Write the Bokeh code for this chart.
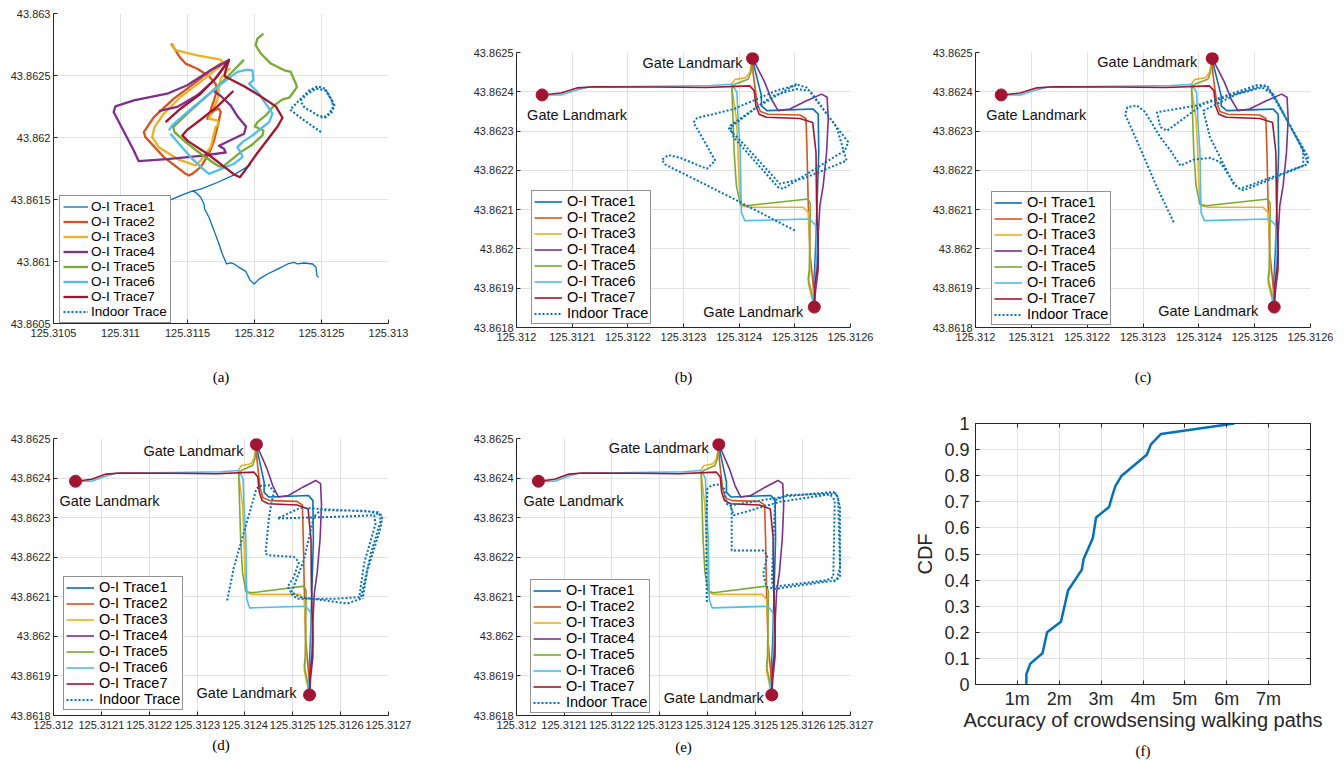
import numpy as np
from bokeh.plotting import figure
from bokeh.models import Range1d, FixedTicker, LinearAxis, Legend, LegendItem, CustomJSTickFormatter
from bokeh.layouts import row, column
from bokeh.embed import file_html
from bokeh.resources import INLINE
from bokeh.core.properties import value

COLORS = ["#0072BD", "#D95319", "#EDB120", "#7E2F8E", "#77AC30", "#4DBEEE", "#A2142F"]
NAMES = ["O-I Trace1", "O-I Trace2", "O-I Trace3", "O-I Trace4", "O-I Trace5", "O-I Trace6", "O-I Trace7"]
INDOOR_NAME = "Indoor Trace"
GATE_TEXT = "Gate Landmark"

# ---------------- panel (a) ----------------
A_XTICKS = [125.3105, 125.311, 125.3115, 125.312, 125.3125, 125.313]
A_XLABELS = ["125.3105", "125.311", "125.3115", "125.312", "125.3125", "125.313"]
A_YTICKS = [43.8605, 43.861, 43.8615, 43.862, 43.8625, 43.863]
A_YLABELS = ["43.8605", "43.861", "43.8615", "43.862", "43.8625", "43.863"]

A_T1_LON = [125.312479, 125.312466, 125.312459, 125.312434, 125.312371, 125.312321, 125.312296, 125.312247,
            125.312172, 125.312097, 125.312034, 125.311997, 125.311967, 125.311935, 125.311885, 125.311847,
            125.311822, 125.311792, 125.311760, 125.311735, 125.311698, 125.311660, 125.311628, 125.311623,
            125.311598, 125.311560, 125.311535, 125.311461, 125.311373, 125.311273, np.nan,
            125.311535, 125.311598, 125.311723, 125.311847, 125.311972]
A_T1_LAT = [43.860872, 43.860885, 43.860953, 43.860980, 43.860988, 43.860980, 43.860993, 43.860980,
            43.860939, 43.860899, 43.860858, 43.860818, 43.860850, 43.860920, 43.860953, 43.860980,
            43.860988, 43.860980, 43.861060, 43.861141, 43.861249, 43.861357, 43.861424, 43.861464,
            43.861518, 43.861559, 43.861567, 43.861537, 43.861497, 43.861451, np.nan,
            43.861567, 43.861583, 43.861637, 43.861699, 43.861782]
A_T2_LON = [125.311378, 125.311398, 125.311441, 125.311486, 125.311573, 125.311660, 125.311710, 125.311718,
            125.311698, 125.311678, 125.311660, 125.311648, 125.311698, 125.311735, 125.311748, 125.311723,
            125.311698, 125.311660, 125.311598, 125.311535, 125.311510, 125.311486, 125.311323, 125.311186,
            125.311174, 125.311249, 125.311398, 125.311548, 125.311673, 125.311748, 125.311810]
A_T2_LAT = [43.862758, 43.862725, 43.862650, 43.862596, 43.862555, 43.862494, 43.862434, 43.862380,
            43.862300, 43.862240, 43.862178, 43.862151, 43.862219, 43.862232, 43.862205, 43.862084,
            43.861976, 43.861869, 43.861761, 43.861707, 43.861693, 43.861707, 43.861842, 43.862003,
            43.862044, 43.862165, 43.862313, 43.862434, 43.862542, 43.862596, 43.862623]
A_T3_LON = [125.311386, 125.311411, 125.311573, 125.311748, 125.311767, 125.311598, 125.311448, 125.311323,
            125.311254, 125.311236, 125.311286, 125.311423, 125.311560, 125.311598, 125.311673, 125.311710,
            125.311735, 125.311723, 125.311660, 125.311673, 125.311723, 125.311735, 125.311748, 125.311797,
            125.311822]
A_T3_LAT = [43.862758, 43.862704, 43.862663, 43.862628, 43.862596, 43.862448, 43.862327, 43.862192,
            43.862084, 43.862003, 43.861922, 43.861828, 43.861774, 43.861815, 43.861922, 43.862084,
            43.862111, 43.862138, 43.862151, 43.862192, 43.862300, 43.862407, 43.862475, 43.862542,
            43.862556]
A_T4_LON = [125.311286, 125.311423, 125.311573, 125.311698, 125.311810, 125.311673, 125.311498, 125.311348,
            125.311099, 125.310962, 125.310949, 125.311099, 125.311136, 125.311348, 125.311598, 125.311785,
            125.311772, 125.311735, 125.311922, 125.311937, 125.311877, 125.311822, 125.311748, 125.311698]
A_T4_LAT = [43.862213, 43.862246, 43.862340, 43.862461, 43.862623, 43.862542, 43.862421, 43.862353,
            43.862300, 43.862251, 43.862205, 43.861895, 43.861809, 43.861825, 43.861852, 43.861879,
            43.861909, 43.861933, 43.862030, 43.862089, 43.862165, 43.862259, 43.862335, 43.862375]
A_T5_LON = [125.312067, 125.312022, 125.312009, 125.312047, 125.312122, 125.312222, 125.312271, 125.312291,
            125.312309, 125.312316, 125.312291, 125.312259, 125.312209, 125.312147, 125.312084, 125.312022,
            125.312002, 125.312067, 125.312059, 125.311985, 125.311897, 125.311822, 125.311760, 125.311723,
            125.311598, 125.311486, 125.311403, 125.311393, 125.311498, 125.311623, 125.311760, 125.311922]
A_T5_LAT = [43.862838, 43.862798, 43.862744, 43.862677, 43.862596, 43.862542, 43.862529, 43.862475,
            43.862434, 43.862407, 43.862367, 43.862321, 43.862308, 43.862259, 43.862178, 43.862124,
            43.862089, 43.862057, 43.862017, 43.861944, 43.861882, 43.861815, 43.861761, 43.861774,
            43.861869, 43.861963, 43.862044, 43.862084, 43.862192, 43.862313, 43.862448, 43.862628]
A_T6_LON = [125.311361, 125.311386, 125.311498, 125.311648, 125.311772, 125.311872, 125.311947, 125.311985,
            125.311992, 125.311960, 125.312022, 125.312084, 125.312134, 125.312109, 125.312047, 125.311985,
            125.311910, 125.311872, 125.311897, 125.311910, 125.311847, 125.311723, 125.311660, 125.311623,
            125.311523, 125.311436, 125.311373]
A_T6_LAT = [43.862057, 43.862098, 43.862205, 43.862340, 43.862448, 43.862529, 43.862547, 43.862542,
            43.862461, 43.862434, 43.862367, 43.862273, 43.862192, 43.862124, 43.862071, 43.862017,
            43.861963, 43.861922, 43.861882, 43.861842, 43.861788, 43.861734, 43.861707, 43.861739,
            43.861842, 43.861949, 43.862030]
A_T7_LON = [125.311336, 125.311448, 125.311598, 125.311723, 125.311810, 125.311785, 125.311777, 125.311835,
            125.311922, 125.312047, 125.312159, 125.312209, 125.312172, 125.312097, 125.312017, 125.311947,
            125.311892, 125.311847, 125.311648, 125.311503, 125.311461, 125.311493, 125.311598, 125.311723,
            125.311842]
A_T7_LAT = [43.862124, 43.862232, 43.862353, 43.862494, 43.862628, 43.862542, 43.862494, 43.862461,
            43.862413, 43.862332, 43.862251, 43.862159, 43.862089, 43.861982, 43.861869, 43.861761,
            43.861680, 43.861702, 43.861869, 43.861971, 43.862017, 43.862057, 43.862143, 43.862251,
            43.862375]
A_IN_LON = [125.312496, 125.312371, 125.312266, 125.312321, 125.312359, 125.312409, 125.312471, 125.312526,
            125.312571, 125.312596, 125.312571, 125.312521, 125.312471, 125.312421, 125.312384, 125.312359,
            125.312346, 125.312396, 125.312459, 125.312533, 125.312583, 125.312583, 125.312533, 125.312483]
A_IN_LAT = [43.862044, 43.862138, 43.862224, 43.862286, 43.862327, 43.862380, 43.862413, 43.862394,
            43.862313, 43.862259, 43.862192, 43.862165, 43.862178, 43.862213, 43.862232, 43.862259,
            43.862300, 43.862353, 43.862394, 43.862380, 43.862286, 43.862232, 43.862165, 43.862165]

# ---------------- panels (b)-(e): outdoor-indoor traces ----------------
B_XTICKS = [125.312, 125.3121, 125.3122, 125.3123, 125.3124, 125.3125, 125.3126]
B_XLABELS = ["125.312", "125.3121", "125.3122", "125.3123", "125.3124", "125.3125", "125.3126"]
D_XTICKS = [125.312, 125.3121, 125.3122, 125.3123, 125.3124, 125.3125, 125.3126, 125.3127]
D_XLABELS = ["125.312", "125.3121", "125.3122", "125.3123", "125.3124", "125.3125", "125.3126", "125.3127"]
B_YTICKS = [43.8618, 43.8619, 43.862, 43.8621, 43.8622, 43.8623, 43.8624, 43.8625]
B_YLABELS = ["43.8618", "43.8619", "43.862", "43.8621", "43.8622", "43.8623", "43.8624", "43.8625"]

GATE_LON = [125.312046, 125.312424, 125.312535]
GATE_LAT = [43.862392, 43.862485, 43.861852]

OI_T1_LON = [125.312424, 125.312428, 125.312434, 125.312440, 125.312440, 125.312450, 125.312533, 125.312542,
             125.312543, 125.312540, 125.312537, 125.312534, 125.312535]
OI_T1_LAT = [43.862485, 43.862458, 43.862424, 43.862390, 43.862364, 43.862352, 43.862356, 43.862343,
             43.862246, 43.862119, 43.861992, 43.861907, 43.861852]
OI_T2_LON = [125.312424, 125.312425, 125.312428, 125.312432, 125.312438, 125.312452, 125.312509, 125.312520,
             125.312522, 125.312524, 125.312527, 125.312533, 125.312535]
OI_T2_LAT = [43.862485, 43.862449, 43.862415, 43.862373, 43.862350, 43.862343, 43.862341, 43.862332,
             43.862246, 43.862119, 43.861992, 43.861907, 43.861852]
OI_T3_LON = [125.312424, 125.312419, 125.312412, 125.312392, 125.312386, 125.312395, 125.312398, 125.312400,
             125.312404, 125.312416, 125.312515, 125.312524, 125.312527, 125.312527, 125.312524, 125.312528,
             125.312535]
OI_T3_LAT = [43.862485, 43.862449, 43.862436, 43.862431, 43.862418, 43.862331, 43.862246, 43.862161,
             43.862110, 43.862106, 43.862106, 43.862093, 43.862025, 43.861941, 43.861915, 43.861890,
             43.861852]
OI_T4_LON = [125.312424, 125.312431, 125.312446, 125.312458, 125.312470, 125.312491, 125.312521, 125.312548,
             125.312558, 125.312560, 125.312557, 125.312551, 125.312545, 125.312542, 125.312542, 125.312537,
             125.312535]
OI_T4_LAT = [43.862485, 43.862466, 43.862424, 43.862381, 43.862352, 43.862356, 43.862377, 43.862394,
             43.862386, 43.862331, 43.862246, 43.862161, 43.862110, 43.862034, 43.861949, 43.861890,
             43.861852]
OI_T5_LON = [125.312424, 125.312421, 125.312416, 125.312392, 125.312387, 125.312389, 125.312391, 125.312395,
             125.312402, 125.312413, 125.312524, 125.312528, 125.312527, 125.312526, 125.312524, 125.312530,
             125.312535]
OI_T5_LAT = [43.862485, 43.862449, 43.862432, 43.862419, 43.862407, 43.862331, 43.862246, 43.862161,
             43.862114, 43.862110, 43.862127, 43.862114, 43.862034, 43.861949, 43.861924, 43.861890,
             43.861852]
OI_T6_LON = [125.312046, 125.312080, 125.312110, 125.312130, 125.312250, 125.312350, 125.312388, 125.312396,
             125.312398, 125.312402, 125.312403, 125.312404, 125.312410, 125.312527, 125.312538, 125.312539,
             125.312536, 125.312532, 125.312535]
OI_T6_LAT = [43.862392, 43.862392, 43.862405, 43.862412, 43.862414, 43.862416, 43.862419, 43.862398,
             43.862331, 43.862246, 43.862161, 43.862093, 43.862072, 43.862076, 43.862059, 43.861992,
             43.861907, 43.861873, 43.861852]
OI_T7_LON = [125.312046, 125.312080, 125.312110, 125.312140, 125.312250, 125.312340, 125.312419, 125.312427,
             125.312430, 125.312436, 125.312449, 125.312509, 125.312532, 125.312538, 125.312539, 125.312542,
             125.312540, 125.312536, 125.312535]
OI_T7_LAT = [43.862392, 43.862397, 43.862410, 43.862413, 43.862412, 43.862411, 43.862415, 43.862403,
             43.862364, 43.862343, 43.862335, 43.862332, 43.862322, 43.862246, 43.862119, 43.861992,
             43.861949, 43.861907, 43.861852]

B_IN_LON = [125.312500, 125.312384, 125.312267, 125.312261, 125.312273, 125.312294, 125.312342, 125.312357,
            125.312318, 125.312324, 125.312390, 125.312467, 125.312505, 125.312521, 125.312557, 125.312596,
            125.312590, 125.312479, 125.312470, 125.312390, 125.312384, 125.312461, 125.312503, 125.312527,
            125.312575, 125.312593, 125.312515, 125.312473, 125.312408, 125.312381, 125.312432, 125.312503]
B_IN_LAT = [43.862047, 43.862132, 43.862215, 43.862227, 43.862239, 43.862232, 43.862204, 43.862225,
            43.862322, 43.862333, 43.862356, 43.862403, 43.862418, 43.862411, 43.862344, 43.862272,
            43.862251, 43.862153, 43.862157, 43.862284, 43.862314, 43.862390, 43.862407, 43.862403,
            43.862310, 43.862225, 43.862179, 43.862166, 43.862267, 43.862306, 43.862361, 43.862420]
C_IN_LON = [125.312355, 125.312325, 125.312289, 125.312268, 125.312272, 125.312289, 125.312304, 125.312331,
            125.312349, 125.312367, 125.312390, 125.312420, 125.312438, 125.312468, 125.312480, 125.312593,
            125.312596, 125.312527, 125.312516, 125.312408, 125.312343, 125.312331, 125.312325, 125.312396,
            125.312504, 125.312522, 125.312539, 125.312587, 125.312587, 125.312474, 125.312462, 125.312420,
            125.312408, 125.312468, 125.312513, 125.312533, 125.312581, 125.312596]
C_IN_LAT = [43.862068, 43.862157, 43.862276, 43.862342, 43.862361, 43.862365, 43.862348, 43.862284,
            43.862251, 43.862212, 43.862227, 43.862232, 43.862221, 43.862157, 43.862149, 43.862215,
            43.862234, 43.862403, 43.862416, 43.862369, 43.862301, 43.862310, 43.862348, 43.862365,
            43.862417, 43.862416, 43.862378, 43.862251, 43.862212, 43.862153, 43.862166, 43.862284,
            43.862352, 43.862394, 43.862411, 43.862394, 43.862267, 43.862218]
D_IN_LON = [125.312363, 125.312377, 125.312405, 125.312424, 125.312431, 125.312450, 125.312461, 125.312455,
            125.312450, 125.312443, 125.312450, 125.312502, 125.312513, 125.312502, 125.312489, 125.312496,
            125.312516, 125.312614, 125.312642, 125.312663, 125.312684, 125.312680, 125.312586, 125.312516,
            125.312468, 125.312586, 125.312670, 125.312673, 125.312649, 125.312639, 125.312586, 125.312509,
            125.312496, 125.312523, 125.312544, 125.312558, 125.312656, 125.312687, 125.312684, 125.312656,
            125.312646]
D_IN_LAT = [43.862091, 43.862175, 43.862293, 43.862373, 43.862380, 43.862382, 43.862365, 43.862335,
            43.862298, 43.862209, 43.862205, 43.862201, 43.862188, 43.862150, 43.862125, 43.862112,
            43.862099, 43.862083, 43.862095, 43.862209, 43.862293, 43.862314, 43.862320, 43.862325,
            43.862298, 43.862302, 43.862306, 43.862285, 43.862184, 43.862099, 43.862095, 43.862095,
            43.862108, 43.862192, 43.862302, 43.862319, 43.862317, 43.862306, 43.862276, 43.862167,
            43.862095]
E_IN_LON = [125.312399, 125.312398, 125.312398, 125.312400, 125.312409, 125.312427, 125.312435, 125.312441,
            125.312451, 125.312451, 125.312517, 125.312526, 125.312517, 125.312524, 125.312542, 125.312671,
            125.312678, 125.312674, 125.312664, 125.312566, 125.312448, 125.312455, 125.312552, 125.312657,
            125.312667, 125.312664, 125.312650, 125.312538, 125.312535, 125.312542, 125.312566, 125.312671,
            125.312678, 125.312678, 125.312664]
E_IN_LAT = [43.862087, 43.862167, 43.862293, 43.862373, 43.862382, 43.862384, 43.862373, 43.862335,
            43.862327, 43.862217, 43.862217, 43.862205, 43.862158, 43.862125, 43.862120, 43.862142,
            43.862175, 43.862352, 43.862365, 43.862354, 43.862331, 43.862306, 43.862340, 43.862359,
            43.862344, 43.862150, 43.862142, 43.862125, 43.862142, 43.862344, 43.862357, 43.862361,
            43.862327, 43.862150, 43.862137]

# ---------------- panel (f): CDF ----------------
F_ACCURACY_M = [1.215, 1.215, 1.31, 1.60, 1.71, 2.04, 2.21, 2.54, 2.58, 2.80, 2.88, 3.19, 3.26, 3.34,
                3.49, 4.09, 4.19, 4.43, 6.18]
F_CDF = [0.0, 0.04, 0.08, 0.12, 0.20, 0.24, 0.36, 0.44, 0.48, 0.56, 0.64, 0.68, 0.72, 0.76,
         0.80, 0.88, 0.92, 0.96, 1.0]
F_XTICKS = [1, 2, 3, 4, 5, 6, 7]
F_XLABELS = ["1m", "2m", "3m", "4m", "5m", "6m", "7m"]
F_YTICKS = [0, 0.1, 0.2, 0.3, 0.4, 0.5, 0.6, 0.7, 0.8, 0.9, 1.0]
F_YLABELS = ["0", "0.1", "0.2", "0.3", "0.4", "0.5", "0.6", "0.7", "0.8", "0.9", "1"]

AX_COLOR = "#262626"
GRID_COLOR = "#e2e2e2"
FONT = "Liberation Sans"
SERIF = "Liberation Serif"


def lookup_formatter(tick_values, tick_labels):
    return CustomJSTickFormatter(args=dict(tv=list(tick_values), tl=list(tick_labels)), code="""
        for (let i = 0; i < tv.length; i++) {
            if (Math.abs(tv[i] - tick) < 1e-9) { return tl[i]; }
        }
        return '';
    """)


def style_axis(ax, size, standoff=5):
    ax.axis_line_color = AX_COLOR
    ax.axis_line_width = 1
    ax.major_tick_line_color = AX_COLOR
    ax.major_tick_in = 4
    ax.major_tick_out = 0
    ax.minor_tick_line_color = None
    ax.major_label_text_font = FONT
    ax.major_label_text_font_size = size
    ax.major_label_text_color = AX_COLOR
    ax.major_label_standoff = standoff


def make_fig(xr, yr, xt, xl, yt, yl, fw, fh, bl, br, bt, bb, tick_size="11px"):
    p = figure(x_range=Range1d(*xr), y_range=Range1d(*yr), frame_width=fw, frame_height=fh,
               min_border_left=bl, min_border_right=br, min_border_top=bt, min_border_bottom=bb,
               output_backend="svg", toolbar_location=None,
               background_fill_color="white", border_fill_color="white")
    p.outline_line_color = None
    p.xaxis.ticker = FixedTicker(ticks=xt)
    p.yaxis.ticker = FixedTicker(ticks=yt)
    p.xaxis.formatter = lookup_formatter(xt, xl)
    p.yaxis.formatter = lookup_formatter(yt, yl)
    p.xgrid.ticker = FixedTicker(ticks=xt)
    p.ygrid.ticker = FixedTicker(ticks=yt)
    for g in (p.xgrid[0], p.ygrid[0]):
        g.grid_line_color = GRID_COLOR
        g.grid_line_width = 1
    style_axis(p.xaxis[0], tick_size)
    style_axis(p.yaxis[0], tick_size, standoff=3)
    return p


def set_caption(ax, text, standoff):
    ax.axis_label = text
    ax.axis_label_text_font = SERIF
    ax.axis_label_text_font_size = "15px"
    ax.axis_label_text_font_style = "normal"
    ax.axis_label_text_color = "black"
    ax.axis_label_standoff = standoff


def add_legend(p, renderers, loc, font_size, glyph_w, standoff, padding):
    labels = NAMES + [INDOOR_NAME]
    items = [LegendItem(label=lab, renderers=[r]) for lab, r in zip(labels, renderers)]
    leg = Legend(items=items, location=loc, margin=0, padding=padding, spacing=0, label_standoff=standoff,
                 glyph_width=glyph_w, glyph_height=15, label_height=15,
                 label_text_font=FONT, label_text_font_size=font_size, label_text_color="black",
                 border_line_color=AX_COLOR, border_line_width=1, background_fill_color="white",
                 background_fill_alpha=1.0)
    p.add_layout(leg)


# layout geometry (frame positions follow the reference)
C1_L, C1_R = 53, 82
C2_L, C2_R = 43, 51
C3_L, C3_R = 74, 30

# ----- panel (a)
pa = make_fig((125.3105, 125.313), (43.8605, 43.863), A_XTICKS, A_XLABELS, A_YTICKS, A_YLABELS,
              335, 310, C1_L, C1_R, 13, 77)
set_caption(pa.xaxis[0], "(a)", 29)
a_lons = [A_T1_LON, A_T2_LON, A_T3_LON, A_T4_LON, A_T5_LON, A_T6_LON, A_T7_LON]
a_lats = [A_T1_LAT, A_T2_LAT, A_T3_LAT, A_T4_LAT, A_T5_LAT, A_T6_LAT, A_T7_LAT]
ra = []
for i, (lo, la) in enumerate(zip(a_lons, a_lats)):
    ra.append(pa.line(np.array(lo), np.array(la), line_color=COLORS[i],
                      line_width=1.3 if i == 0 else 2.3, line_join="round"))
ra.append(pa.line(A_IN_LON, A_IN_LAT, line_color=COLORS[0], line_width=2.2, line_dash="2 2"))
add_legend(pa, ra, (6, 0), "13.5px", 25, 3, 3)

OI_LONS = [OI_T1_LON, OI_T2_LON, OI_T3_LON, OI_T4_LON, OI_T5_LON, OI_T6_LON, OI_T7_LON]
OI_LATS = [OI_T1_LAT, OI_T2_LAT, OI_T3_LAT, OI_T4_LAT, OI_T5_LAT, OI_T6_LAT, OI_T7_LAT]


def gate_panel(p, in_lon, in_lat, legend_loc, offsets):
    rs = []
    for i, (lo, la) in enumerate(zip(OI_LONS, OI_LATS)):
        rs.append(p.line(lo, la, line_color=COLORS[i], line_width=1.6, line_join="round"))
    rs.append(p.line(in_lon, in_lat, line_color=COLORS[0], line_width=2.0, line_dash="2 2"))
    p.scatter(GATE_LON, GATE_LAT, size=12, marker="circle", fill_color="#A2142F", line_color="#A2142F")
    aligns = ["left", "right", "right"]
    for i in range(3):
        p.text(x=[GATE_LON[i]], y=[GATE_LAT[i]], text=[GATE_TEXT], x_offset=offsets[i][0], y_offset=offsets[i][1],
               text_align=aligns[i], text_baseline="middle", text_font=value(FONT),
               text_font_size="14.5px", text_color="#111111")
    add_legend(p, rs, legend_loc, "14.5px", 28, 5, 2)


pb = make_fig((125.312, 125.3126), (43.8618, 43.8625), B_XTICKS, B_XLABELS, B_YTICKS, B_YLABELS,
              334, 275, C2_L, C2_R, 52, 73)
set_caption(pb.xaxis[0], "(b)", 25)
gate_panel(pb, B_IN_LON, B_IN_LAT, (15, 3), [(-15, 20), (-10, 5), (-11, 5)])

pc = make_fig((125.312, 125.3126), (43.8618, 43.8625), B_XTICKS, B_XLABELS, B_YTICKS, B_YLABELS,
              335, 275, C3_L, C3_R, 52, 73)
set_caption(pc.xaxis[0], "(c)", 25)
gate_panel(pc, C_IN_LON, C_IN_LAT, (16, 2), [(-15, 20), (-15, 4), (-16, 4)])

pd_ = make_fig((125.312, 125.3127), (43.8618, 43.8625), D_XTICKS, D_XLABELS, B_YTICKS, B_YLABELS,
               335, 277, C1_L, C1_R, 38, 55)
set_caption(pd_.xaxis[0], "(d)", 5)
gate_panel(pd_, D_IN_LON, D_IN_LAT, (10, 5), [(-16, 20), (-13, 7), (-13, -2)])

pe = make_fig((125.312, 125.3127), (43.8618, 43.8625), D_XTICKS, D_XLABELS, B_YTICKS, B_YLABELS,
              334, 277, C2_L, C2_R, 38, 55)
set_caption(pe.xaxis[0], "(e)", 7)
gate_panel(pe, E_IN_LON, E_IN_LAT, (14, 2), [(-15, 20), (-10, 4), (-8, 3)])

# ----- panel (f)
pf = make_fig((0, 8), (0, 1), F_XTICKS, F_XLABELS, F_YTICKS, F_YLABELS, 335, 261, C3_L, C3_R, 23, 86,
              tick_size="18px")
pf.outline_line_color = AX_COLOR
pf.xaxis[0].major_label_standoff = 4
pf.yaxis[0].major_label_standoff = 6
pf.xaxis[0].axis_label = "Accuracy of crowdsensing walking paths"
pf.yaxis[0].axis_label = "CDF"
for ax in (pf.xaxis[0], pf.yaxis[0]):
    ax.axis_label_text_font = FONT
    ax.axis_label_text_font_size = "20px"
    ax.axis_label_text_font_style = "normal"
    ax.axis_label_text_color = AX_COLOR
pf.xaxis[0].axis_label_standoff = -3
pf.yaxis[0].axis_label_standoff = 5
for place, tks in (("right", F_YTICKS), ("above", F_XTICKS)):
    bx = LinearAxis(ticker=FixedTicker(ticks=tks))
    style_axis(bx, "0px", standoff=0)
    bx.formatter = lookup_formatter(tks, [""] * len(tks))
    pf.add_layout(bx, place)
cap = LinearAxis(ticker=FixedTicker(ticks=[]))
cap.axis_line_color = None
cap.major_tick_line_color = None
cap.minor_tick_line_color = None
cap.major_tick_out = 0
cap.major_label_standoff = 0
set_caption(cap, "(f)", 9)
pf.add_layout(cap, "below")
pf.line(F_ACCURACY_M, F_CDF, line_color=COLORS[0], line_width=2.5)

layout = row(column(pa, pd_), column(pb, pe), column(pc, pf))
open("out.html", "w").write(file_html(layout, INLINE))
